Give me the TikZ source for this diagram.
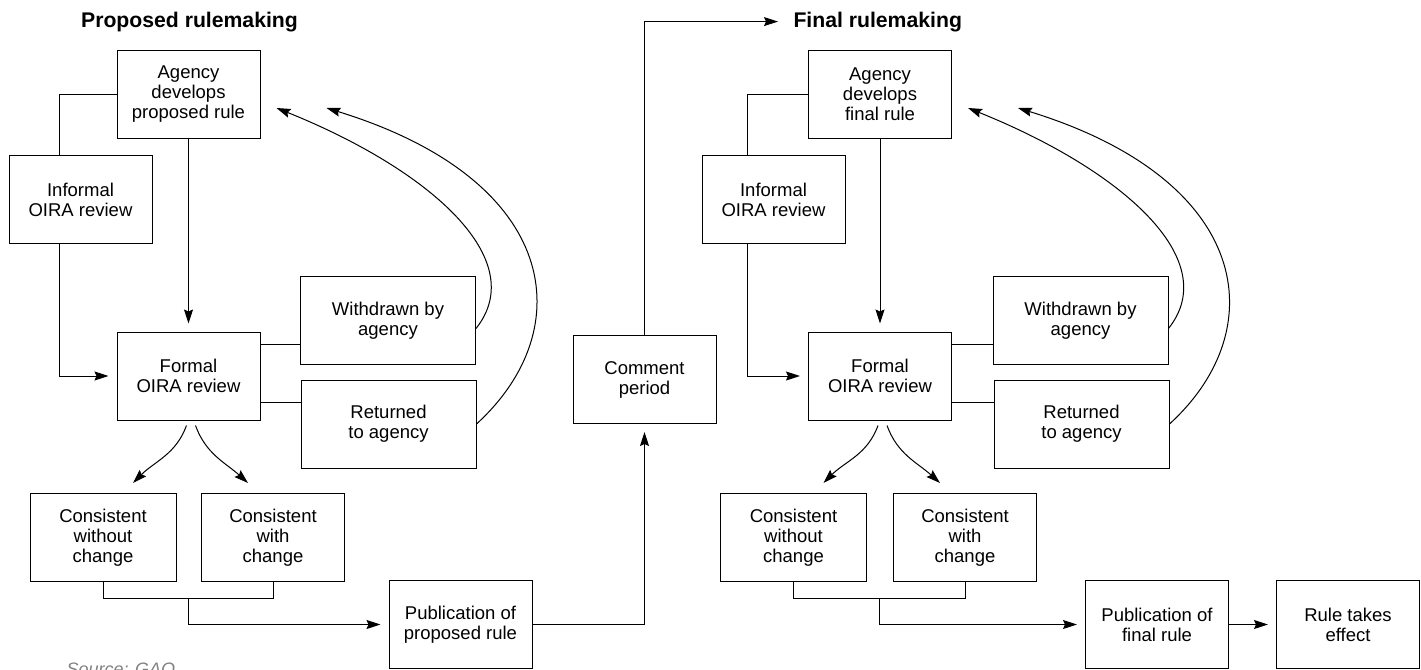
\documentclass[tikz,border=0pt]{standalone}
\usepackage{fontspec}
\setmainfont{Liberation Sans}
\usetikzlibrary{arrows.meta}

\begin{document}
\begin{tikzpicture}[x=0.5pt,y=-0.5pt,line width=0.5pt,
    >={Stealth[length=7pt,width=4.5pt,inset=1pt]},
    box/.style={draw,align=center,inner sep=0pt,minimum width=71.5pt,minimum height=44pt,font=\fontsize{9.25}{10}\selectfont},
    widebox/.style={box,minimum width=87.5pt},
    heading/.style={inner sep=0pt,anchor=base,font=\fontsize{10.6}{12}\selectfont\bfseries},
    arr/.style={->,shorten >=4pt}]
      \useasboundingbox (0,0) rectangle (1421,670) ;
      \node[heading] (titleP) at (189.5,27) {Proposed rulemaking} ;
      \node[box] (agencyP) at (188.5,94) {Agency\\develops\\proposed rule} ;
      \node[box] (informalP) at (80.5,199.5) {Informal\\OIRA review} ;
      \node[box] (formalP) at (188.5,376) {Formal\\OIRA review} ;
      \node[widebox] (withdrawnP) at (388,320.5) {Withdrawn by\\agency} ;
      \node[widebox] (returnedP) at (388.5,424) {Returned\\to agency} ;
      \node[box,minimum width=73pt] (withoutP) at (103,537.5) {Consistent\\without\\change} ;
      \node[box] (withP) at (273,537.5) {Consistent\\with\\change} ;
      \node[box] (publishP) at (460.5,624.5) {Publication of\\proposed rule} ;
      \node[box] (comment) at (644.5,379.5) {Comment\\period} ;
      \node[heading,anchor=base west] (titleF) at (793,27) {Final rulemaking} ;
      \node[box] (agencyF) at (880,94) {Agency\\develops\\final rule} ;
      \node[box] (informalF) at (773.5,199.5) {Informal\\OIRA review} ;
      \node[box] (formalF) at (880,376) {Formal\\OIRA review} ;
      \node[widebox] (withdrawnF) at (1080.5,320.5) {Withdrawn by\\agency} ;
      \node[widebox] (returnedF) at (1081.5,424) {Returned\\to agency} ;
      \node[box,minimum width=73pt] (withoutF) at (793.5,537.5) {Consistent\\without\\change} ;
      \node[box] (withF) at (965,537.5) {Consistent\\with\\change} ;
      \node[box] (publishF) at (1157,624.5) {Publication of\\final rule} ;
      \node[box] (effect) at (1348,624.5) {Rule takes\\effect} ;
      \node[overlay,anchor=north west,inner sep=0pt,text=gray,font=\fontsize{9}{10}\selectfont\itshape] (source) at (66,662) {Source: GAO} ;
      % proposed rule
      \coordinate (jP) at (59,0) ;
      \coordinate (wP) at ([yshift=10.5pt]withdrawnP.south west) ;
      \coordinate (rP) at ([yshift=-11.5pt]returnedP.north west) ;
      \draw (agencyP.west) -| (jP |- informalP.north) ;
      \draw[arr] (jP |- informalP.south) |- (formalP.west) ;
      \draw[arr] (agencyP) -- (formalP) ;
      \draw (formalP.east |- wP) -- (wP) ;
      \draw (formalP.east |- rP) -- (rP) ;
      \draw[->] ([yshift=-4pt]withdrawnP.east) .. controls +(55,-69) and +(154,62) .. ([shift={(8pt,-7pt)}]agencyP.east) ;
      \draw[->] (returnedP.east) .. controls +(104,-95) and +(234,72) .. ([shift={(33pt,-7pt)}]agencyP.east) ;
      \draw[->] ([shift={(-1pt,-2.5pt)}]formalP.south) to[out=-110,in=45] ([shift={(15pt,5pt)}]withoutP.north) ;
      \draw[->] ([shift={(3.5pt,-2.5pt)}]formalP.south) to[out=-70,in=138] ([shift={(-12.5pt,5pt)}]withP.north) ;
      \draw (withoutP.south) -- ++(0,16) -| node[pos=0.25,coordinate] (mP) {} (withP.south) ;
      \draw[arr] (mP) |- (publishP.west) ;
      \draw[arr] (publishP.east) -| (comment.south) ;
      \draw[->,shorten >=7.5pt] (comment.north) |- (titleF.west) ;
      % final rule
      \coordinate (jF) at (747,0) ;
      \coordinate (wF) at ([yshift=10.5pt]withdrawnF.south west) ;
      \coordinate (rF) at ([yshift=-11.5pt]returnedF.north west) ;
      \draw (agencyF.west) -| (jF |- informalF.north) ;
      \draw[arr] (jF |- informalF.south) |- (formalF.west) ;
      \draw[arr] (agencyF) -- (formalF) ;
      \draw (formalF.east |- wF) -- (wF) ;
      \draw (formalF.east |- rF) -- (rF) ;
      \draw[->] ([yshift=-4pt]withdrawnF.east) .. controls +(55,-69) and +(154,62) .. ([shift={(8pt,-7pt)}]agencyF.east) ;
      \draw[->] (returnedF.east) .. controls +(104,-95) and +(234,72) .. ([shift={(33pt,-7pt)}]agencyF.east) ;
      \draw[->] ([shift={(-1pt,-2.5pt)}]formalF.south) to[out=-110,in=45] ([shift={(15pt,5pt)}]withoutF.north) ;
      \draw[->] ([shift={(3.5pt,-2.5pt)}]formalF.south) to[out=-70,in=138] ([shift={(-12.5pt,5pt)}]withF.north) ;
      \draw (withoutF.south) -- ++(0,16) -| node[pos=0.25,coordinate] (mF) {} (withF.south) ;
      \draw[arr] (mF) |- (publishF.west) ;
      \draw[arr] (publishF) -- (effect) ;
    \end{tikzpicture}
\end{document}
